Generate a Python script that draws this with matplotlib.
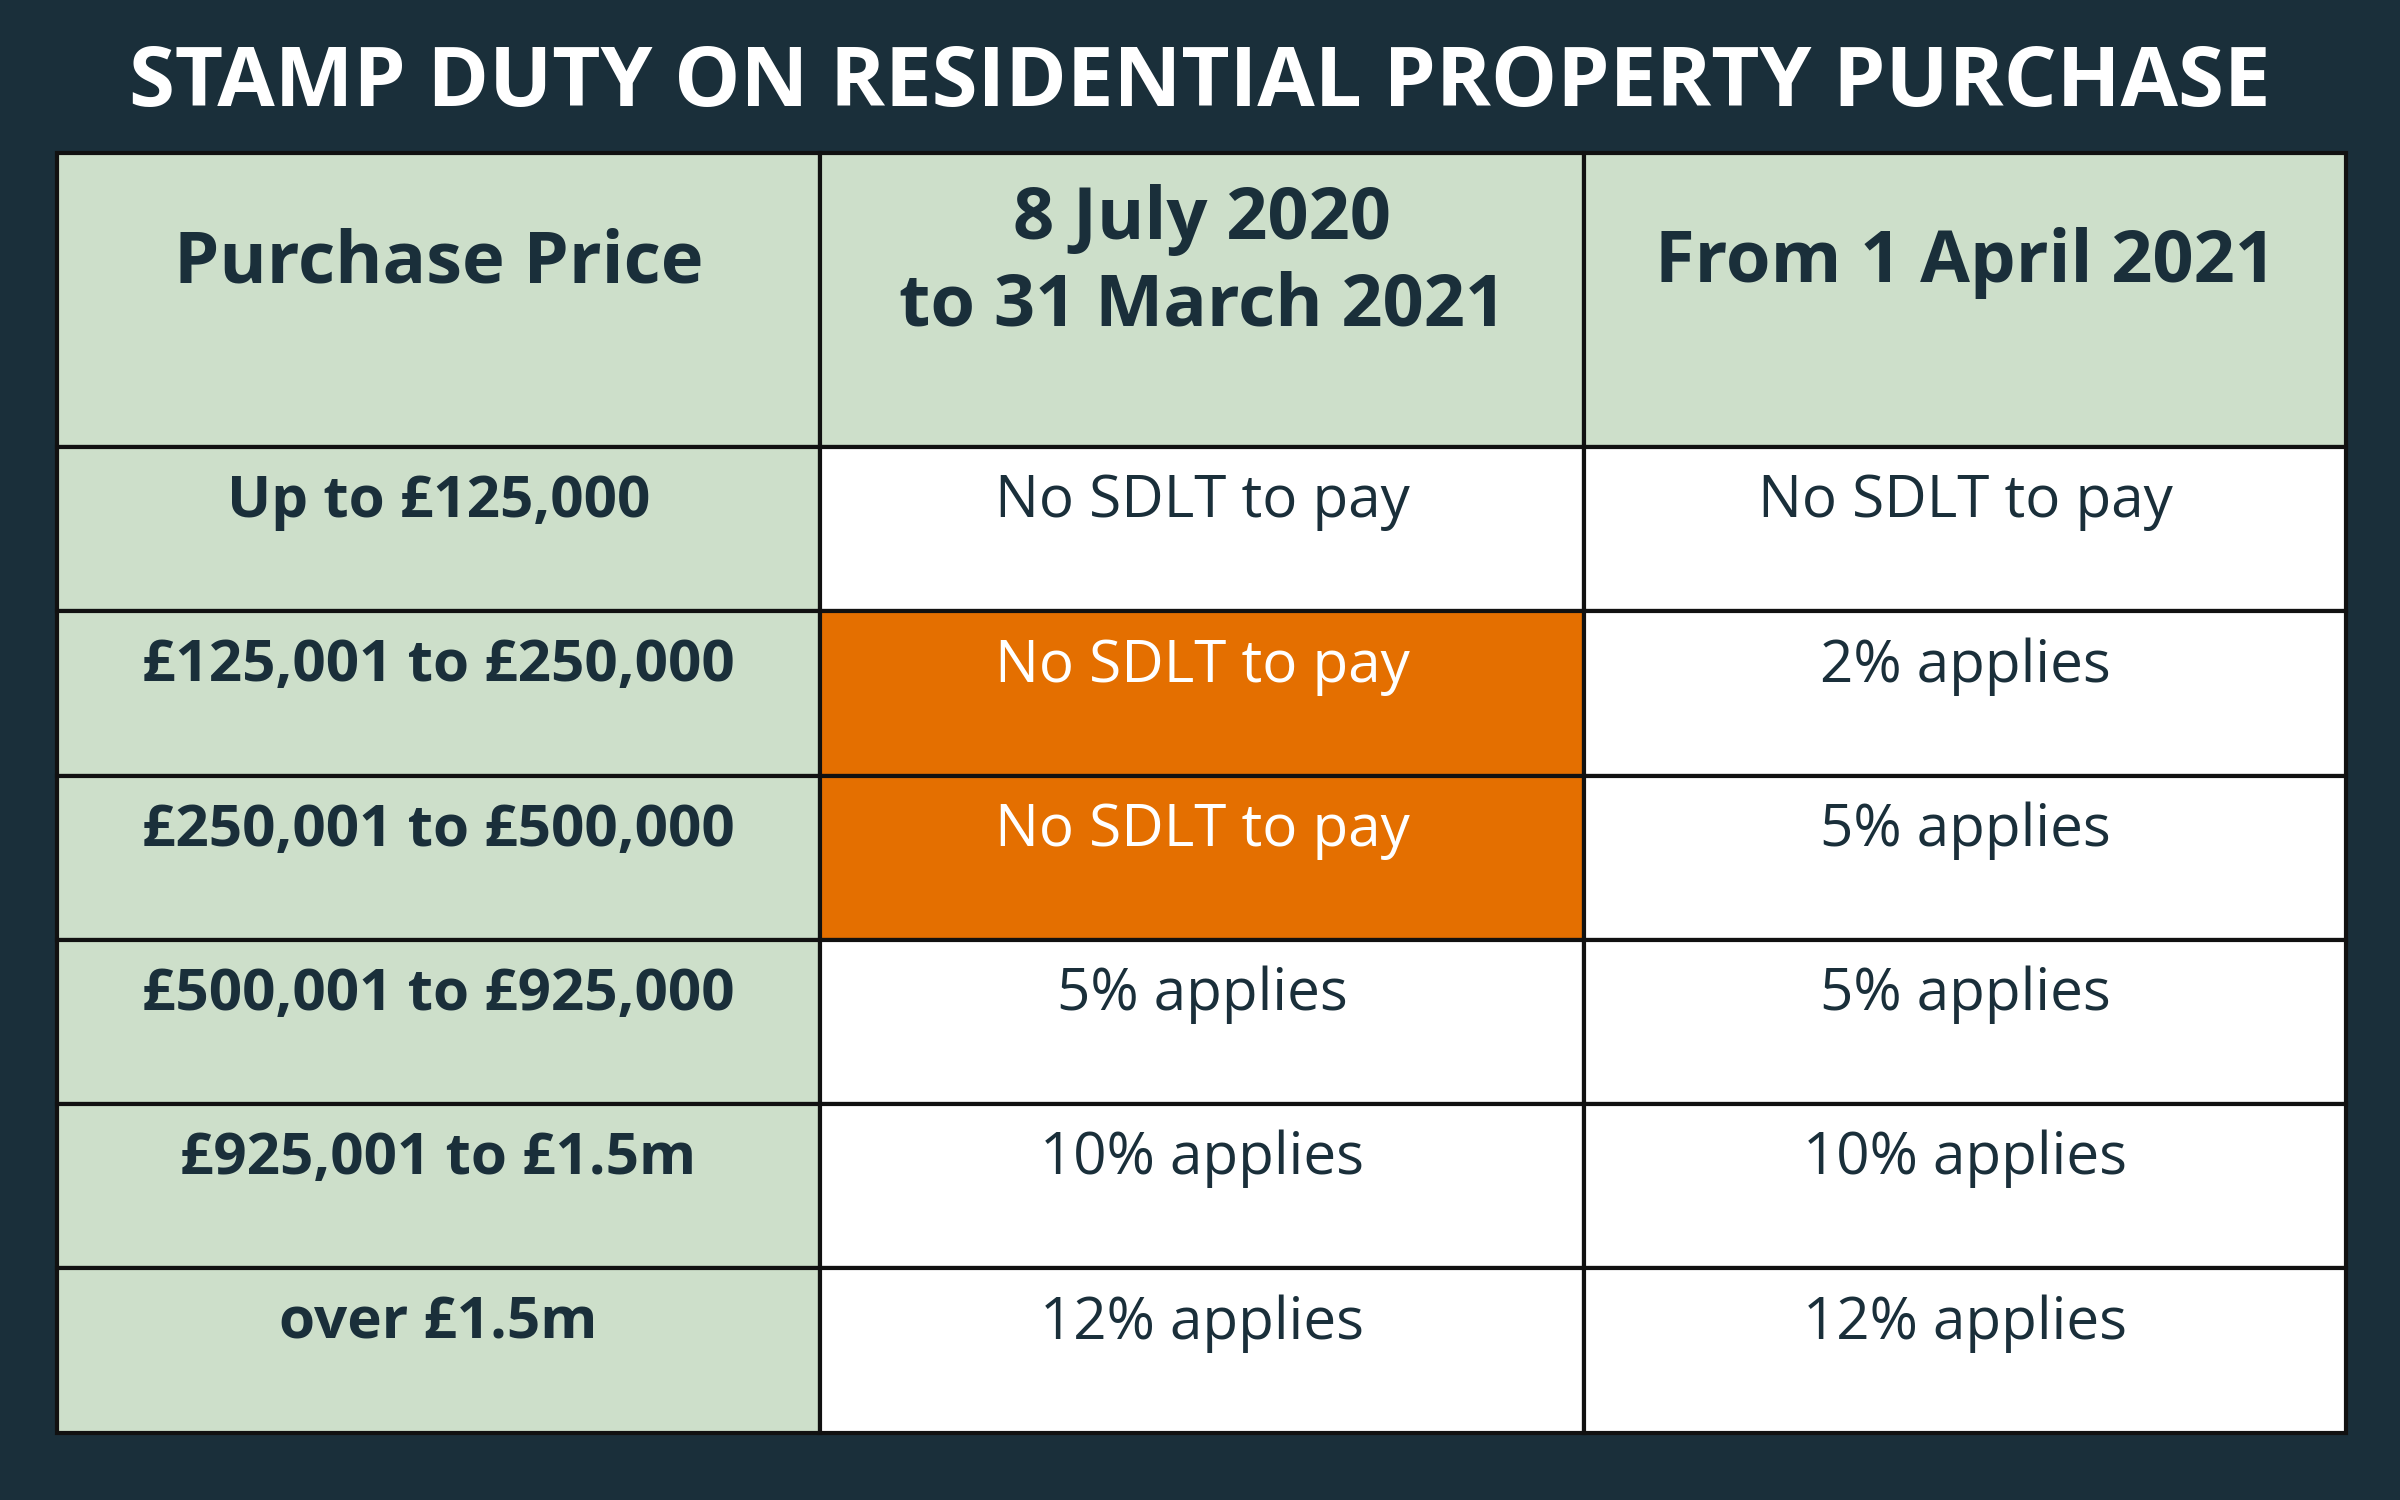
import matplotlib
matplotlib.use("Agg")
import matplotlib.pyplot as plt
from matplotlib.patches import Rectangle

BG = "#1a2f3a"
GREEN = "#cddfca"
ORANGE = "#e46f00"
TEXT = "#1a2f3a"

title = "STAMP DUTY ON RESIDENTIAL PROPERTY PURCHASE"
headers = ["Purchase Price", "8 July 2020\nto 31 March 2021", "From 1 April 2021"]
bands = ["Up to £125,000", "£125,001 to £250,000", "£250,001 to £500,000",
         "£500,001 to £925,000", "£925,001 to £1.5m", "over £1.5m"]
holiday = ["No SDLT to pay", "No SDLT to pay", "No SDLT to pay",
           "5% applies", "10% applies", "12% applies"]
from_april = ["No SDLT to pay", "2% applies", "5% applies",
              "5% applies", "10% applies", "12% applies"]
highlight = [False, True, True, False, False, False]

# layout in reference pixel space (1568 x 980)
col_x = [37, 536, 1035, 1533]
head_top, head_bot = 100, 292
row_h = (936 - head_bot) / len(bands)

fig = plt.figure(figsize=(24, 15), dpi=100)
fig.patch.set_facecolor(BG)
ax = fig.add_axes([0, 0, 1, 1])
ax.set_xlim(0, 1568)
ax.set_ylim(980, 0)
ax.axis("off")

font = "Open Sans"
ax.text(784, 55, title, color="white", fontsize=60, fontweight="bold",
        fontname=font, ha="center", va="center")

def cell(x0, x1, y0, y1, color):
    ax.add_patch(Rectangle((x0, y0), x1 - x0, y1 - y0, facecolor=color,
                           edgecolor="#111111", linewidth=3))

# header
for j, h in enumerate(headers):
    cell(col_x[j], col_x[j + 1], head_top, head_bot, GREEN)
    ax.text((col_x[j] + col_x[j + 1]) / 2, 172, h, color=TEXT, fontsize=52,
            fontweight="bold", fontname=font, ha="center", va="center",
            linespacing=1.25)

for i in range(len(bands)):
    y0 = head_bot + i * row_h
    y1 = y0 + row_h
    cols = [bands[i], holiday[i], from_april[i]]
    fills = [GREEN, ORANGE if highlight[i] else "white", "white"]
    for j in range(3):
        cell(col_x[j], col_x[j + 1], y0, y1, fills[j])
        tc = "white" if fills[j] == ORANGE else TEXT
        ax.text((col_x[j] + col_x[j + 1]) / 2, y0 + 36, cols[j], color=tc,
                fontsize=42, fontweight="bold" if j == 0 else "normal",
                fontname=font, ha="center", va="center")

fig.savefig("out.png", dpi=100, facecolor=BG)
